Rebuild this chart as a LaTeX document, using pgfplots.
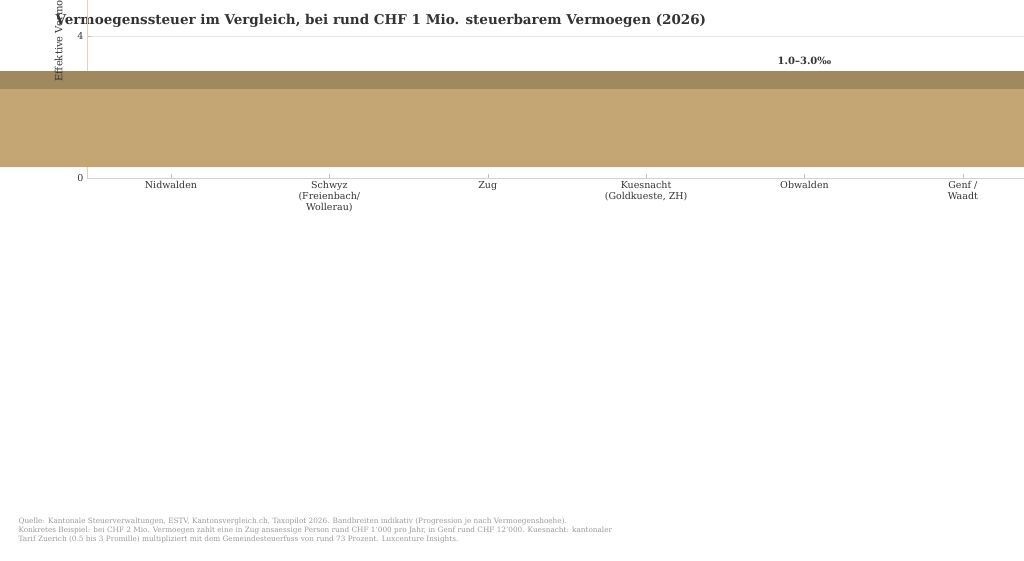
\documentclass[border=0pt]{standalone}
\usepackage{pgfplots}
\pgfplotsset{compat=1.18}
\usepackage{fontspec}
\setmainfont{DejaVu Serif}
\definecolor{ctan}{HTML}{C4A574}
\definecolor{cdtan}{HTML}{A0895E}
\definecolor{clgr}{HTML}{999999}
\definecolor{cdgr}{HTML}{707070}
\definecolor{ctxt}{HTML}{333333}
\tikzset{lbl/.style={anchor=south,font=\bfseries\fontsize{10}{12}\selectfont,text=ctxt,yshift=3pt}}
\begin{document}
\begin{tikzpicture}[x=1pt,y=1pt]
\path[use as bounding box] (0,0) rectangle (1024,561);
\node[anchor=west,font=\bfseries\fontsize{13.5}{16}\selectfont,text=ctxt] at (52,540) {Vermoegenssteuer im Vergleich, bei rund CHF 1 Mio. steuerbarem Vermoegen (2026)};
\begin{axis}[at={(55,108)},anchor=south west,scale only axis,width=955,height=408,
  ybar stacked, bar width=80,
  xmin=-0.53,xmax=5.5,ymin=0,ymax=11.5,
  xtick={0,1,2,3,4,5},
  xticklabels={Nidwalden,{Schwyz\\(Freienbach/\\Wollerau)},Zug,{Kuesnacht\\(Goldkueste, ZH)},Obwalden,{Genf /\\Waadt}},
  xticklabel style={align=center,font=\fontsize{9.5}{11}\selectfont,text=ctxt},
  ytick={0,2,4,6,8,10},
  yticklabel style={font=\fontsize{9.5}{11}\selectfont,text=ctxt},
  /pgf/number format/assume math mode=true,
  ymajorgrids, grid style={gray!20},
  axis x line*=bottom, axis y line*=left,
  x axis line style={gray!35}, y axis line style={ctan!50},
  tick style={gray!50}, major tick length=4pt,
  ylabel={Effektive Vermoegenssteuer, Promille (‰)},
  ylabel style={font=\fontsize{10}{12}\selectfont,text=ctxt},
  clip=false]
\addplot[draw=none,fill=none] coordinates {(0,0.3)(1,0.4)(2,0.5)(3,0.4)(4,1.0)(5,5.0)};
\addplot[fill=ctan,draw=none] coordinates {(0,1.2)(1,1.4)(2,2.0)(3,0)(4,0)(5,0)};
\addplot[fill=clgr,draw=none] coordinates {(0,0)(1,0)(2,0)(3,1.8)(4,0)(5,0)};
\addplot[fill=cdtan,draw=none] coordinates {(0,0)(1,0)(2,0)(3,0)(4,2.0)(5,0)};
\addplot[fill=cdgr,draw=none] coordinates {(0,0)(1,0)(2,0)(3,0)(4,0)(5,5.0)};
\node[lbl] at (axis cs:0,1.5) {0.3–1.5‰};
\node[lbl] at (axis cs:1,1.8) {0.4–1.8‰};
\node[lbl] at (axis cs:2,2.5) {0.5–2.5‰};
\node[lbl] at (axis cs:3,2.2) {0.4–2.2‰};
\node[lbl] at (axis cs:4,3.0) {1.0–3.0‰};
\node[lbl] at (axis cs:5,10.0) {5.0–10.0‰};
\end{axis}
\node[anchor=north west,align=left,text=gray!80,font=\fontsize{7.3}{9.2}\selectfont] at (15,47) {Quelle: Kantonale Steuerverwaltungen, ESTV, Kantonsvergleich.ch, Taxopilot 2026. Bandbreiten indikativ (Progression je nach Vermoegenshoehe).\\Konkretes Beispiel: bei CHF 2 Mio. Vermoegen zahlt eine in Zug ansaessige Person rund CHF 1'000 pro Jahr, in Genf rund CHF 12'000. Kuesnacht: kantonaler\\Tarif Zuerich (0.5 bis 3 Promille) multipliziert mit dem Gemeindesteuerfuss von rund 73 Prozent. Luxcenture Insights.};
\end{tikzpicture}
\end{document}
